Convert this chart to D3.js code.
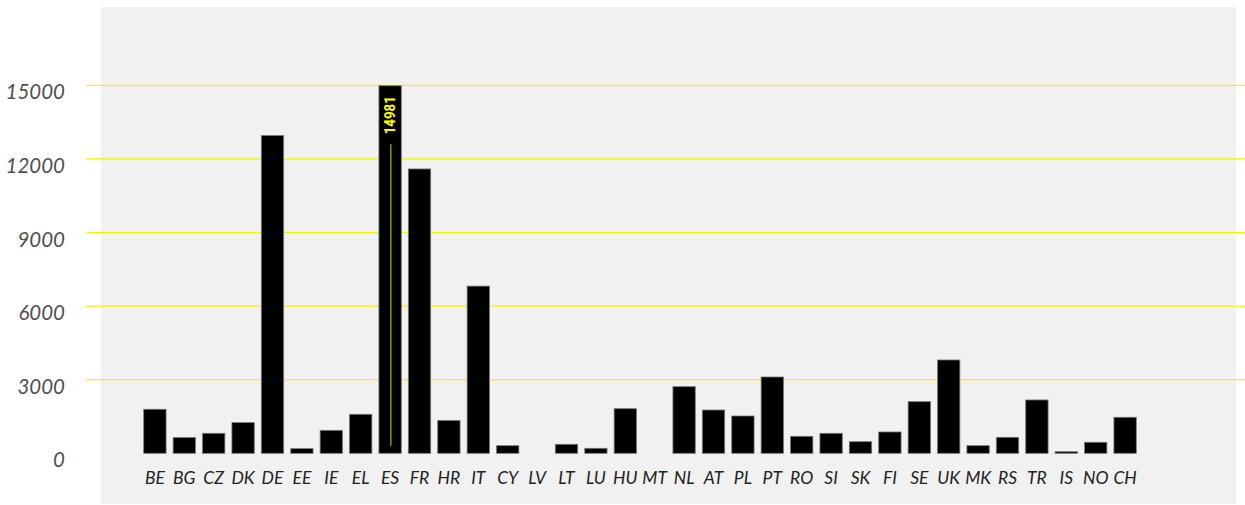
<!DOCTYPE html>
<html>
<head>
<meta charset="utf-8">
<script src="https://cdn.jsdelivr.net/npm/d3@7"></script>
<style>
  html, body { margin: 0; padding: 0; background: #ffffff; }
  svg { display: block; }
</style>
</head>
<body>
<svg id="chart" width="1245" height="505"></svg>
<script>
const categories = ["BE","BG","CZ","DK","DE","EE","IE","EL","ES","FR","HR","IT","CY","LV","LT","LU","HU","MT","NL","AT","PL","PT","RO","SI","SK","FI","SE","UK","MK","RS","TR","IS","NO","CH"];
const values = [1795, 640, 815, 1250, 12950, 190, 937, 1590, 14981, 11590, 1335, 6815, 310, 0, 367, 204, 1818, 0, 2715, 1765, 1520, 3110, 693, 815, 473, 869, 2104, 3804, 310, 652, 2174, 65, 449, 1468];
const yTicks = [0, 3000, 6000, 9000, 12000, 15000];
const highlight = "ES";

const svg = d3.select("#chart");

const x = d3.scaleBand()
  .domain(categories)
  .range([140.2, 1139.8])
  .paddingInner(0.24)
  .paddingOuter(0.12);

const y = d3.scaleLinear()
  .domain([0, 15000])
  .range([453.3, 85.3]);

// background panel
svg.append("rect")
  .attr("x", 101).attr("y", 7)
  .attr("width", 1135).attr("height", 497)
  .attr("fill", "#f0f1f0");

// gridlines
svg.append("g")
  .selectAll("line")
  .data(yTicks.filter(d => d > 0))
  .join("line")
  .attr("x1", 86).attr("x2", 1245)
  .attr("y1", d => y(d)).attr("y2", d => y(d))
  .attr("stroke", "#f3f300")
  .attr("stroke-width", 1.2);

// y tick labels
svg.append("g")
  .selectAll("text")
  .data(yTicks)
  .join("text")
  .attr("x", 65)
  .attr("y", d => y(d) + 14)
  .attr("text-anchor", "end")
  .attr("font-family", "Lato, 'Open Sans', sans-serif")
  .attr("font-style", "italic")
  .attr("font-weight", 400)
  .attr("font-size", 20.5)
  .attr("fill", "#505050")
  .text(d => d);

// bars
svg.append("g")
  .selectAll("rect")
  .data(categories.map((c, i) => ({ c, v: values[i] })).filter(d => d.v > 0))
  .join("rect")
  .attr("x", d => x(d.c))
  .attr("y", d => y(d.v))
  .attr("width", x.bandwidth())
  .attr("height", d => y(0) - y(d.v))
  .attr("fill", "#000000")
  .attr("stroke", "#777777")
  .attr("stroke-width", 0.8);

// x labels
svg.append("g")
  .selectAll("text")
  .data(categories)
  .join("text")
  .attr("x", d => x(d) + x.bandwidth() / 2)
  .attr("y", 483.5)
  .attr("text-anchor", "middle")
  .attr("font-family", "Lato, 'Open Sans', sans-serif")
  .attr("font-style", "italic")
  .attr("font-weight", 400)
  .attr("font-size", 17.5)
  .attr("fill", "#222222")
  .text(d => d);

// highlight annotation for ES
const hi = categories.indexOf(highlight);
const hv = values[hi];
const cx = x(highlight) + x.bandwidth() / 2;
svg.append("line")
  .attr("x1", cx + 0.7).attr("x2", cx + 0.7)
  .attr("y1", y(hv) + 58.5)
  .attr("y2", y(0) - 7.5)
  .attr("stroke", "#8c8c00")
  .attr("stroke-width", 1.6);

svg.append("text")
  .attr("transform", `translate(${cx + 4.5},${y(hv) + 48.5}) rotate(-90)`)
  .attr("font-family", "Roboto, 'DejaVu Sans', sans-serif")
  .attr("font-weight", 700)
  .attr("font-size", 15)
  .attr("fill", "#ffff00")
  .attr("textLength", 38)
  .attr("lengthAdjust", "spacingAndGlyphs")
  .text(hv);
</script>
</body>
</html>
